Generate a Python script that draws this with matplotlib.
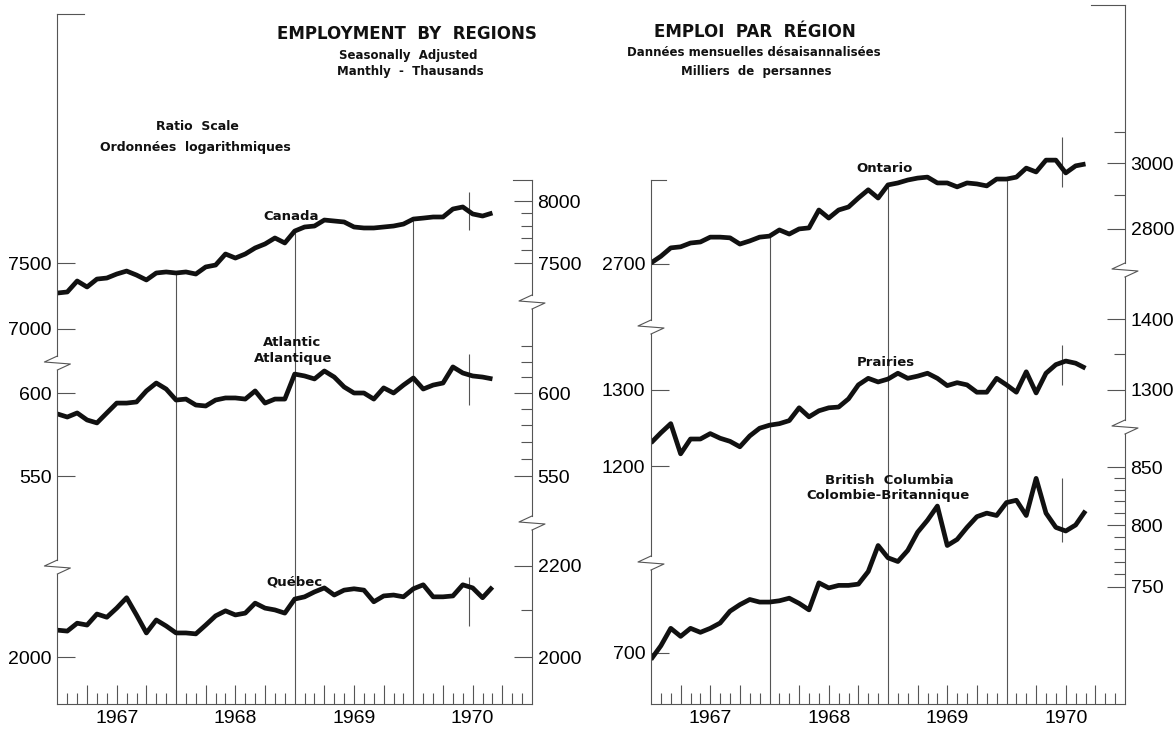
import numpy as np
import matplotlib
matplotlib.use('Agg')
import matplotlib.pyplot as plt
from matplotlib.lines import Line2D
from matplotlib.ticker import NullFormatter

# monthly points, Jan 1967 .. Sep 1970 (thousands of persons)
months = np.arange(45)
years = ['1967', '1968', '1969', '1970']

canada = [7268, 7276, 7360, 7314, 7375, 7383, 7414, 7437, 7406, 7368,
          7422, 7430, 7422, 7430, 7414, 7469, 7484, 7571, 7539, 7571,
          7619, 7651, 7699, 7659, 7755, 7788, 7796, 7845, 7837, 7829,
          7788, 7780, 7780, 7788, 7796, 7812, 7853, 7861, 7870, 7870,
          7936, 7953, 7895, 7878, 7903]
atlantic = [587.0, 585.1, 587.6, 583.3, 581.5, 587.6, 593.7, 593.7, 594.4, 601.3,
            606.3, 602.5, 595.6, 596.2, 592.5, 591.9, 595.6, 596.9, 596.9, 596.2,
            601.3, 593.7, 596.2, 596.2, 612.0, 610.8, 608.9, 614.0, 610.1, 603.8,
            600.0, 600.0, 596.2, 603.2, 600.0, 605.0, 609.5, 602.5, 605.0, 606.3,
            616.6, 612.7, 610.8, 610.1, 608.9]
quebec = [2057, 2055, 2072, 2068, 2092, 2085, 2105, 2128, 2090, 2051,
          2079, 2066, 2051, 2051, 2049, 2068, 2088, 2099, 2090, 2094,
          2116, 2105, 2101, 2094, 2125, 2130, 2141, 2150, 2134, 2145,
          2148, 2145, 2119, 2132, 2134, 2130, 2148, 2157, 2130, 2130,
          2132, 2157, 2150, 2128, 2152]
ontario = [2702, 2721, 2745, 2748, 2759, 2762, 2776, 2776, 2774, 2756,
           2765, 2776, 2779, 2797, 2785, 2800, 2803, 2856, 2832, 2856,
           2865, 2892, 2917, 2892, 2932, 2938, 2947, 2953, 2956, 2938,
           2938, 2926, 2938, 2935, 2929, 2950, 2950, 2956, 2984, 2972,
           3009, 3009, 2969, 2991, 2997]
prairies = [1230, 1243, 1255, 1216, 1235, 1235, 1242, 1236, 1232, 1225,
            1239, 1249, 1253, 1255, 1259, 1276, 1264, 1272, 1276, 1277,
            1288, 1307, 1316, 1311, 1315, 1323, 1316, 1319, 1323, 1316,
            1306, 1310, 1307, 1297, 1297, 1316, 1307, 1297, 1325, 1296,
            1323, 1335, 1340, 1337, 1330]
bc = [695, 705, 718, 712, 718, 715, 718, 722, 731, 736,
      740, 738, 738, 739, 741, 737, 732, 753, 749, 751,
      751, 752, 762, 783, 773, 770, 779, 794, 804, 816,
      783, 788, 798, 807, 810, 808, 819, 821, 808, 840,
      810, 798, 795, 800, 812]

W, H = 1174, 730
S = 2200.0          # pixels per decade (ratio scale, same for every series)
BOT = 704
INK = '#111111'
THIN = '#555555'
NUMSIZE = 14
plt.rcParams['font.family'] = ['Liberation Sans', 'DejaVu Sans']

fig = plt.figure(figsize=(W / 100, H / 100), dpi=100)


def fx(x):
    return x / W


def fy(y):
    return 1 - y / H


def line(xs, ys):
    fig.add_artist(Line2D([fx(x) for x in xs], [fy(y) for y in ys], lw=0.8,
                          color=THIN, transform=fig.transFigure))


def broken_axis(x, top, breaks, stub):
    ys = [top]
    for b in breaks:
        ys += [b - 7, b + 7]
    ys.append(BOT)
    for a, b in zip(ys[::2], ys[1::2]):
        line([x, x], [a, b])
    for b in breaks:
        line([x, x - 13, x + 13, x], [b - 7, b - 1, b + 1, b + 7])
    line([x, x + stub], [top, top])


def style_ticks(a, side):
    a.tick_params(axis='y', which='major', direction='in', length=13, width=0.8,
                  color=THIN, pad=4, labelsize=NUMSIZE, left=(side == 'left'),
                  right=(side == 'right'))
    a.tick_params(axis='y', which='minor', direction='in', length=8, width=0.8,
                  color=THIN)
    a.yaxis.set_minor_formatter(NullFormatter())


def series(x0, x1, vals, anchor, left, right, rminor, marker, dividers=False):
    av, ay = anchor
    ax = fig.add_axes([fx(x0), fy(BOT), fx(x1) - fx(x0), fy(5) - fy(BOT)])
    lo = av * 10 ** ((ay - BOT) / S)
    hi = av * 10 ** ((ay - 5) / S)
    ax.set_yscale('log')
    ax.set_ylim(lo, hi)
    ax.set_xlim(0, 48)
    ax.patch.set_visible(False)
    for sp in ax.spines.values():
        sp.set_visible(False)
    ax.set_xticks([])
    ax.set_yticks(left, labels=[str(v) for v in left])
    ax.set_yticks([], minor=True)
    style_ticks(ax, 'left')

    rax = ax.twinx()
    rax.set_yscale('log')
    rax.set_ylim(lo, hi)
    rax.patch.set_visible(False)
    for sp in rax.spines.values():
        sp.set_visible(False)
    rax.set_yticks(right, labels=[str(v) for v in right])
    rax.set_yticks(rminor, minor=True)
    style_ticks(rax, 'right')

    ax.plot(months, vals, color=INK, lw=3.4, solid_joinstyle='round',
            solid_capstyle='butt', zorder=3)
    ax.vlines(41.6, marker[0], marker[1], color=THIN, lw=0.8)
    if dividers:
        ax.vlines([12, 24, 36], lo, [vals[12], vals[24], vals[36]],
                  color=THIN, lw=0.8)
    return ax


def time_axis(x0, x1):
    tax = fig.add_axes([fx(x0), fy(BOT), fx(x1) - fx(x0), 0.05])
    tax.set_xlim(0, 48)
    tax.patch.set_visible(False)
    for k in ('top', 'left', 'right'):
        tax.spines[k].set_visible(False)
    tax.spines['bottom'].set_color(THIN)
    tax.spines['bottom'].set_linewidth(0.8)
    tax.set_yticks([])
    quarters = [m for m in range(3, 48, 3) if m % 12]
    tax.set_xticks(quarters, labels=[years[m // 12] if m % 12 == 6 else ''
                                     for m in quarters])
    tax.set_xticks([m for m in range(1, 48) if m % 3], minor=True)
    tax.tick_params(axis='x', which='major', direction='in', length=14,
                    width=0.8, color=THIN, pad=4, labelsize=NUMSIZE)
    tax.tick_params(axis='x', which='minor', direction='in', length=8,
                    width=0.8, color=THIN)


# left panel
LX0, LX1 = 57.4, 532
series(LX0, LX1, canada, (7500, 263), [7500, 7000], [8000, 7500],
       [7900, 7800, 7700, 7600], (7763, 8078), dividers=True)
series(LX0, LX1, atlantic, (600, 393), [600, 550], [600, 550],
       [630, 620, 610, 590, 580, 570, 560], (592.5, 625))
series(LX0, LX1, quebec, (2000, 657), [2000], [2200, 2000], [2100],
       (2066, 2175))
time_axis(LX0, LX1)
broken_axis(LX0, 14, [363, 567], 27)
broken_axis(LX1, 180, [302, 523], -19)

# right panel
RX0, RX1 = 651, 1125
series(RX0, RX1, ontario, (3000, 163), [2700], [3000, 2800], [3100, 2900],
       (2925, 3082), dividers=True)
series(RX0, RX1, prairies, (1300, 390), [1300, 1200], [1400, 1300], [1350],
       (1307, 1363))
series(RX0, RX1, bc, (800, 525), [700], [850, 800, 750],
       [840, 830, 820, 810, 790, 780, 770, 760], (786, 840))
time_axis(RX0, RX1)
broken_axis(RX0, 180, [327, 563], 15)
broken_axis(RX1, 5, [270, 427], -34)


def label(x, y, s, size=9.5, weight='bold'):
    fig.text(fx(x), fy(y), s, ha='center', va='center', fontsize=size,
             fontweight=weight, family='DejaVu Sans', color=INK)


label(407, 34, 'EMPLOYMENT  BY  REGIONS', 12)
label(408, 55, 'Seasonally  Adjusted', 8.5)
label(410, 72, 'Manthly  -  Thausands', 8.5)
label(755, 32, 'EMPLOI  PAR  RÉGION', 12)
label(754, 52, 'Dannées mensuelles désaisannalisées', 8.5)
label(756, 71, 'Milliers  de  persannes', 8.5)
label(197, 126, 'Ratio  Scale', 9)
label(195, 147, 'Ordonnées  logarithmiques', 9)
label(291, 216, 'Canada')
label(292, 343, 'Atlantic')
label(293, 359, 'Atlantique')
label(294, 582, 'Québec')
label(885, 168, 'Ontario')
label(886, 362, 'Prairies')
label(889, 480, 'British  Columbia')
label(888, 495, 'Colombie-Britannique')

fig.savefig('out.png', dpi=100)
